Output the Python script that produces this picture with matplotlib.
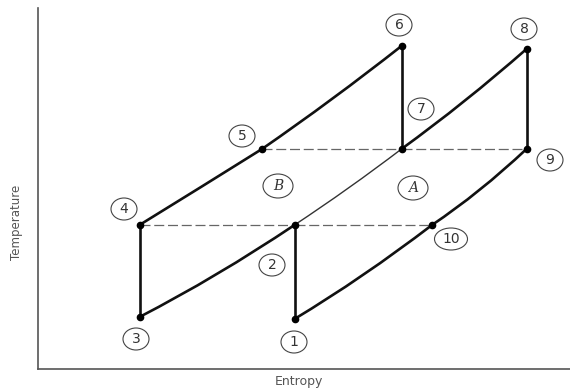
import matplotlib
matplotlib.use("Agg")
import matplotlib.pyplot as plt
from matplotlib.path import Path
from matplotlib.patches import PathPatch, Ellipse

# ---- data (entropy s, temperature T in arbitrary units) ----
state_names = ["1", "2", "3", "4", "5", "6", "7", "8", "9", "10"]
state_s = [257, 257, 102, 102, 224.5, 364, 364, 489, 489, 394.5]
state_T = [50, 144, 52, 144, 220, 323, 220, 320, 220, 144]

# isobar segments: (start state, end state, s at midpoint, T at midpoint)
seg_start = ["3", "2", "7", "4", "5", "1", "10"]
seg_end = ["2", "7", "8", "5", "6", "10", "9"]
seg_mid_s = [179.5, 311, 427, 163.5, 294.5, 325.5, 442]
seg_mid_T = [95, 181, 268, 182, 270, 94, 179]
seg_bold = [True, False, True, True, True, True, True]

# vertical processes (pairs of state names)
verticals = [("3", "4"), ("1", "2"), ("6", "7"), ("8", "9")]
# constant-temperature dashed lines
dashed = [("4", "2"), ("2", "10"), ("5", "7"), ("7", "9")]

# circled labels: text, s, T
labels = ["1", "2", "3", "4", "5", "6", "7", "8", "9", "10"]
label_s = [256.5, 234.5, 98.5, 86.5, 204.5, 361.5, 383.5, 486.5, 512.5, 413.5]
label_T = [27, 104, 30, 160, 233, 344, 260, 340, 209, 130]
region_names = ["A", "B"]
region_s = [375.5, 240.5]
region_T = [181, 183]

S = dict(zip(state_names, state_s))
T = dict(zip(state_names, state_T))

W, H = 570, 392
fig = plt.figure(figsize=(W / 100, H / 100), dpi=100)
ax = fig.add_axes([37.5 / W, 1 - 369 / H, 1 - 37.5 / W, (369 - 8) / H])
ax.set_xlim(0, 532.5)
ax.set_ylim(0, 361)
for side in ("top", "right"):
    ax.spines[side].set_visible(False)
for side in ("left", "bottom"):
    ax.spines[side].set_color("#555555")
    ax.spines[side].set_linewidth(1.2)
ax.set_xticks([])
ax.set_yticks([])

bold = dict(color="#111111", lw=1.9, capstyle="round", joinstyle="round")
thin = dict(color="#333333", lw=1.0)

for a, b, ms, mT, isb in zip(seg_start, seg_end, seg_mid_s, seg_mid_T, seg_bold):
    p0 = (S[a], T[a])
    p2 = (S[b], T[b])
    # quadratic Bezier passing through the read midpoint
    c = (2 * ms - (p0[0] + p2[0]) / 2, 2 * mT - (p0[1] + p2[1]) / 2)
    path = Path([p0, c, p2], [Path.MOVETO, Path.CURVE3, Path.CURVE3])
    style = bold if isb else thin
    ax.add_patch(PathPatch(path, fc="none", ec=style["color"], lw=style["lw"],
                           capstyle="round"))

for a, b in verticals:
    ax.plot([S[a], S[b]], [T[a], T[b]], color="#111111", lw=1.9,
            solid_capstyle="round")
for a, b in dashed:
    ax.plot([S[a], S[b]], [T[a], T[b]], color="#666666", lw=0.9,
            dashes=(8, 3))

ax.plot(state_s, state_T, "o", color="#000000", ms=4.5, zorder=5)

for t, x, y in zip(labels, label_s, label_T):
    w = 33 if len(t) > 1 else 26
    ax.add_patch(Ellipse((x, y), w, 22, fc="none", ec="#444444", lw=0.8))
    ax.text(x, y, t, ha="center", va="center", fontsize=10, color="#333333")
for t, x, y in zip(region_names, region_s, region_T):
    ax.add_patch(Ellipse((x, y), 30, 24, fc="none", ec="#444444", lw=0.8))
    ax.text(x, y, t, ha="center", va="center", fontsize=10, color="#333333",
            fontstyle="italic", family="DejaVu Serif")

fig.text(17 / W, 1 - 222 / H, "Temperature", rotation=90, ha="center",
         va="center", fontsize=8.5, color="#555555")
fig.text(299 / W, 1 - 381 / H, "Entropy", ha="center", va="center",
         fontsize=9, color="#555555")

fig.savefig("out.png", dpi=100)
